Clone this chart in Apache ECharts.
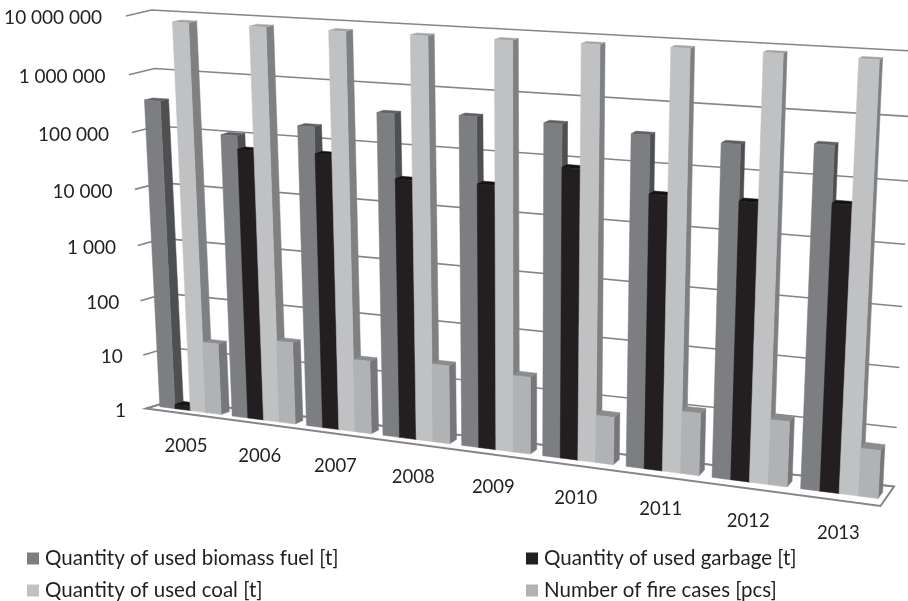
<!DOCTYPE html>
<html><head><meta charset="utf-8">
<style>html,body{margin:0;padding:0;background:#fff}#c{width:908px;height:601px}</style>
<script src="https://cdn.jsdelivr.net/npm/echarts@6/dist/echarts.min.js"></script>
</head><body><div id="c"></div>
<script>
const years = ["2005","2006","2007","2008","2009","2010","2011","2012","2013"];
const biomass = [341000, 107000, 189000, 392000, 434000, 411000, 342000, 307000, 374000];
const garbage = [1.2, 63000, 67000, 32000, 34000, 82000, 39000, 39000, 47000];
const coal = [7900000, 7900000, 7900000, 7900000, 7900000, 8100000, 8400000, 8400000, 8100000];
const fire = [20, 30, 20, 24, 22, 6.6, 11.5, 12.5, 6.3];
const tickValues = [1, 10, 100, 1000, 10000, 100000, 1000000, 10000000];
const tickLabels = ["1", "10", "100", "1 000", "10 000", "100 000", "1 000 000", "10 000 000"];
const seriesNames = ["Quantity of used biomass fuel [t]", "Quantity of used garbage [t]", "Quantity of used coal [t]", "Number of fire cases [pcs]"];

const FONT = 'Lato';
const TEXT = '#231f20';
const GRID = {left: 154, top: 14, width: 731, height: 391};

// Perspective view of the flat cartesian grid: the plane of the bars' front faces
const q = {lb: [154.5, 406], rb: [885, 499.5], rt: [908, 55], lt: [134.5, 14]};
const H = (function () {
  const [x0, y0] = q.lb, [x1, y1] = q.rb, [x2, y2] = q.rt, [x3, y3] = q.lt;
  const dx1 = x1 - x2, dx2 = x3 - x2, sx = x0 - x1 + x2 - x3;
  const dy1 = y1 - y2, dy2 = y3 - y2, sy = y0 - y1 + y2 - y3;
  const den = dx1 * dy2 - dx2 * dy1;
  const g = (sx * dy2 - dx2 * sy) / den, h = (dx1 * sy - sx * dy1) / den;
  return {a: x1 - x0 + g * x1, b: x3 - x0 + h * x3, c: x0, d: y1 - y0 + g * y1, e: y3 - y0 + h * y3, f: y0, g, h};
})();
const lerp = (a, b, t) => a + (b - a) * t;
function project(u, v, depth) {
  const w = H.g * u + H.h * v + 1;
  const x = (H.a * u + H.b * v + H.c) / w, y = (H.d * u + H.e * v + H.f) / w;
  const ox = lerp(lerp(8.5, 4.5, u), lerp(8.5, 3, u), v);
  const oy = lerp(lerp(-2.6, -6.5, u), lerp(-2, -2, u), v);
  return [x + ox * depth, y + oy * depth];
}
const toUV = (px, py) => [(px - GRID.left) / GRID.width, (GRID.top + GRID.height - py) / GRID.height];

const GROUP = 0.85, BAR = GROUP / 4;
const faces = [
  {front: '#7d7e81', side: '#4e4f51', top: '#606164'},
  {front: '#231f20', side: '#161314', top: '#151213'},
  {front: '#c0c1c3', side: '#7f8082', top: '#a3a4a6'},
  {front: '#b1b2b4', side: '#76777a', top: '#8b8c8e'}
];

function barSeries(idx, values) {
  const col = faces[idx];
  return {
    type: 'custom', name: seriesNames[idx], coordinateSystem: 'cartesian2d', clip: false,
    itemStyle: {color: col.front}, encode: {x: 0, y: 1},
    data: values.map((v, i) => [years[i], v]),
    renderItem(params, api) {
      const cat = api.value(0), val = api.value(1);
      const band = api.size([1, 0])[0];
      const p = api.coord([cat, val]), p0 = api.coord([cat, 1]);
      const xl = p[0] + (-GROUP / 2 + idx * BAR) * band, xr = xl + BAR * band;
      const [ul, vt] = toUV(xl, p[1]), [ur] = toUV(xr, p[1]), [, vb] = toUV(xl, p0[1]);
      const poly = (pts, fill) => ({type: 'polygon', shape: {points: pts}, style: {fill, stroke: fill, lineWidth: 0.5}});
      return {type: 'group', children: [
        poly([project(ur, vb, 0), project(ur, vb, 1), project(ur, vt, 1), project(ur, vt, 0)], col.side),
        poly([project(ul, vt, 0), project(ur, vt, 0), project(ur, vt, 1), project(ul, vt, 1)], col.top),
        poly([project(ul, vb, 0), project(ur, vb, 0), project(ur, vt, 0), project(ul, vt, 0)], col.front)
      ]};
    }
  };
}

const wallSeries = {
  type: 'custom', name: 'walls', coordinateSystem: 'cartesian2d', clip: false, silent: true,
  encode: {x: 0, y: 1},
  data: tickValues.map((v, i) => [years[0], v, tickLabels[i]]),
  renderItem(params, api) {
    const p = api.coord([api.value(0), api.value(1)]);
    const [, v] = toUV(p[0], p[1]);
    const start = project(0, v, -1), corner = project(0, v, 2), end = project(1, v, 2);
    const kids = [];
    if (params.dataIndex === 0) {
      kids.push({type: 'polygon', shape: {points: [project(0, 0, -1), project(1, 0, -1), project(1, 0, 2), project(0, 0, 2)]},
        style: {fill: '#fff', stroke: '#858585', lineWidth: 2}});
    }
    kids.push({type: 'polyline', shape: {points: [start, corner, end]}, style: {fill: 'none', stroke: '#858585', lineWidth: 1.6}});
    kids.push({type: 'text', style: {text: tickLabels[params.dataIndex], x: start[0] - 20 - 4 * v, y: start[1] + 2, align: 'right', verticalAlign: 'middle',
      fontFamily: FONT, fontSize: 19, fill: TEXT}});
    return {type: 'group', children: kids};
  }
};

const yearSeries = {
  type: 'custom', name: 'years', coordinateSystem: 'cartesian2d', clip: false, silent: true,
  encode: {x: 0, y: 1},
  data: years.map(y => [y, 1]),
  renderItem(params, api) {
    const p = api.coord([api.value(0), 1]);
    const [u, v] = toUV(p[0], p[1]);
    const a = project(u, v, -1);
    return {type: 'text', style: {text: years[params.dataIndex], x: a[0] + 4, y: a[1] + 33, align: 'center', verticalAlign: 'middle',
      fontFamily: FONT, fontSize: 18.5, fill: TEXT}};
  }
};

function legendAt(i, left, top) {
  return {orient: 'horizontal', icon: 'rect', itemWidth: 12, itemHeight: 12, padding: 0, left, top, selectedMode: false, data: [seriesNames[i]],
    textStyle: {fontFamily: FONT, fontSize: 20.5, color: TEXT, padding: [0, 0, 0, 1]}};
}

const chart = echarts.init(document.getElementById('c'), null, {renderer: 'canvas'});
chart.setOption({
  animation: false, backgroundColor: '#fff',
  grid: GRID,
  xAxis: {type: 'category', data: years, show: false},
  yAxis: {type: 'log', min: 1, max: 10000000, logBase: 10, show: false},
  legend: [legendAt(0, 27, 548), legendAt(1, 526, 548), legendAt(2, 27, 580), legendAt(3, 526, 580)],
  tooltip: {show: false},
  series: [wallSeries, yearSeries, barSeries(0, biomass), barSeries(1, garbage), barSeries(2, coal), barSeries(3, fire)]
});
</script></body></html>
